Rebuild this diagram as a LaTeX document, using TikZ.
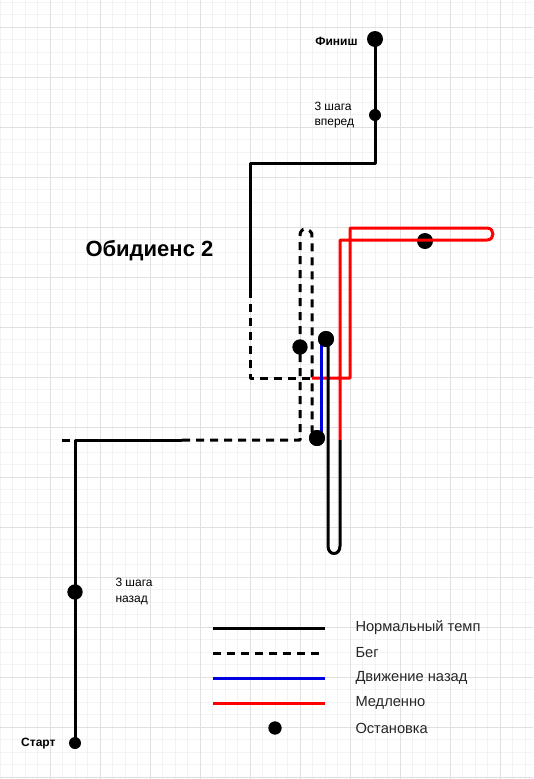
\documentclass[tikz,border=0pt]{standalone}
\usepackage{fontspec}
\setmainfont{Liberation Sans}
\definecolor{gridminor}{HTML}{F3F3F3}
\definecolor{gridmajor}{HTML}{E0E0E0}
\definecolor{slowred}{HTML}{FF0000}
\definecolor{backblue}{HTML}{0000E0}
\tikzset{every picture/.style={line width=0.75pt}}
\tikzset{
  walk/.style={line width=2.25pt, line join=round},
  run/.style={walk, dash pattern={on 6pt off 4.5pt}},
  slow/.style={walk, draw=slowred},
  back/.style={walk, draw=backblue},
  stopdot/.style={circle, fill=black, inner sep=0pt, minimum size=#1},
  stopdot/.default=11.5,
  small/.style={inner sep=0.75pt, font=\fontsize{9}{11.25}\selectfont, align=left},
  legendtext/.style={anchor=west, inner sep=0.75pt, font=\fontsize{11}{12}\selectfont, text=black!85}
}
\begin{document}
\begin{tikzpicture}[x=0.75pt,y=0.75pt,yscale=-1,xscale=1]
	\useasboundingbox (0,0) rectangle (533,779);
	\fill[white] (0,0) rectangle (533,779);
	
	%Grid
	\foreach \gx in {0,12.5,...,533} {\draw[gridminor, line width=0.5pt] (\gx,0) -- (\gx,779);}
	\foreach \gy in {2,14.5,...,779} {\draw[gridminor, line width=0.5pt] (0,\gy) -- (533,\gy);}
	\foreach \gx in {50,100,...,500} {\draw[gridmajor, line width=0.5pt] (\gx,0) -- (\gx,779);}
	\foreach \gy in {27,77,...,777} {\draw[gridmajor, line width=0.5pt] (0,\gy) -- (533,\gy);}
	
	%Stops
	\node[stopdot=9] (start) at (75,743) {};
	\node[stopdot] (backstop) at (75,592) {};
	\node[stopdot] (runstop) at (300,347) {};
	\node[stopdot=12] (turnstop) at (326,339) {};
	\node[stopdot=12] (backend) at (317,438) {};
	\node[stopdot=12] (slowstop) at (425,241) {};
	\node[stopdot=9] (fwdstop) at (375,115) {};
	\node[stopdot=12] (finish) at (375,39) {};
	
	%Corners
	\coordinate (c1) at (75,440);
	\coordinate (c0) at (62,440);
	\coordinate (c2) at (182,440);
	\coordinate (c3) at (300,440);
	\coordinate (c4) at (250,290);
	\coordinate (c5) at (250,378);
	\coordinate (c6) at (312,378);
	\coordinate (c7) at (250,163);
	\coordinate (c8) at (375,163);
	\coordinate (c9) at (312,432);
	
	%Normal pace: start
	\draw [walk] (start.center) -- (c1) -- (c2) ;
	%Run
	\draw [run] (c0) -- (c1) ;
	\draw [run] (c2) -- (c3) -- (300,236) .. controls (300,229) and (305,227) .. (310,231) .. controls (312,233) .. (312,238) -- (c9) ;
	\draw [run] (c4) -- (c5) -- (c6) ;
	%Normal pace: finish
	\draw [walk] (c4) -- (c7) -- (c8) -- (finish.center) ;
	%Slow
	\draw [slow] (c6) -- (350,378) -- (350,228) -- (487,228) .. controls (495,228) and (495,240) .. (487,240) -- (340,240) -- (340,440) ;
	%Normal pace: U-turn
	\draw [walk] (340,440) -- (340,546) .. controls (340,556) and (328,556) .. (328,546) -- (328,339) ;
	%Backward
	\draw [back] (321,341) -- (321,436) ;
	\node[stopdot=12] at (turnstop) {};
	\node[stopdot=12] at (backend) {};
	
	% Text Node
	\node[small, anchor=east, font=\fontsize{9}{11.25}\selectfont\bfseries] (finishlbl) at (359,41) {Финиш};
	% Text Node
	\node[small, anchor=west] (fwdlbl) at (313,115) {3 шага\\вперед};
	% Text Node
	\node[anchor=west, inner sep=0.75pt, font=\fontsize{16.5}{20}\selectfont\bfseries] (title) at (84,251) {Обидиенс 2};
	% Text Node
	\node[small, anchor=west, font=\fontsize{9}{12}\selectfont] (backlbl) at (114,591) {3 шага\\назад};
	% Text Node
	\node[small, anchor=east, font=\fontsize{9}{11.25}\selectfont\bfseries] (startlbl) at (57,744) {Старт};
	
	%Legend
	\draw [walk] (213,628) -- (325,628) ;
	\draw [run] (213,653) -- (325,653) ;
	\draw [back] (213,678) -- (325,678) ;
	\draw [slow] (213,703) -- (325,703) ;
	\node[stopdot=10] (legdot) at (275,728) {};
	% Text Node
	\node[legendtext] (leg1) at (354,628) {Нормальный темп};
	% Text Node
	\node[legendtext] (leg2) at (354,653) {Бег};
	% Text Node
	\node[legendtext] (leg3) at (354,678) {Движение назад};
	% Text Node
	\node[legendtext] (leg4) at (354,703) {Медленно};
	% Text Node
	\node[legendtext] (leg5) at (354,728) {Остановка};
\end{tikzpicture}
\end{document}
